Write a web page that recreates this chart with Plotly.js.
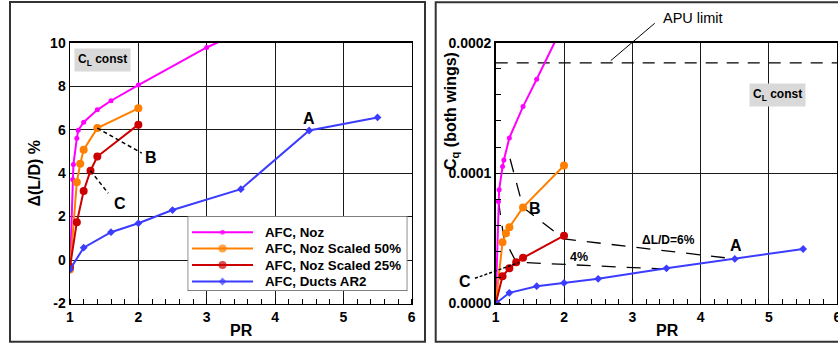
<!DOCTYPE html>
<html>
<head>
<meta charset="utf-8">
<script src="https://cdn.plot.ly/plotly-3.0.1.min.js"></script>
<style>
  html, body { margin: 0; padding: 0; background: #fff; }
  #chart { width: 838px; height: 347px; }
</style>
</head>
<body>
<div id="chart"></div>
<script>
// ---- Data: pressure ratio sweeps for each AFC configuration ----
// AFC, Noz
const nozPR   = [1, 1.04, 1.05, 1.1, 1.12, 1.2, 1.4, 1.6, 2, 3, 3.5];
const nozDLD  = [-0.38, 3.7, 4.4, 5.6, 5.97, 6.34, 6.91, 7.33, 8.05, 9.78, 10.5];
const nozCq   = [0, 0.0000783, 0.0000872, 0.000105, 0.00011, 0.000127, 0.000151, 0.000172, 0.000215];
// AFC, Noz Scaled 50%
const s50PR   = [1, 1.1, 1.15, 1.2, 1.4, 2];
const s50DLD  = [-0.43, 3.58, 4.43, 5.08, 6.07, 6.98];
const s50Cq   = [0, 0.000047, 0.0000538, 0.0000585, 0.0000737, 0.0001058];
// AFC, Noz Scaled 25%
const s25PR   = [1, 1.1, 1.2, 1.3, 1.4, 2];
const s25DLD  = [-0.31, 1.74, 3.18, 4.11, 4.76, 6.23];
const s25Cq   = [0, 0.0000209, 0.000027, 0.0000317, 0.000035, 0.000052];
// AFC, Ducts AR2
const ductsPR  = [1, 1.2, 1.6, 2, 2.5, 3.5, 4.5, 5.5];
const ductsDLD = [-0.43, 0.57, 1.28, 1.69, 2.3, 3.26, 5.96, 6.56];
const ductsCq  = [0, 0.0000082, 0.0000133, 0.0000158, 0.0000189, 0.000027, 0.0000342, 0.0000418];

// Constant delta L/D lines in the Cq plane
const dld6PR = [1.21, 1.4, 2, 4.5];
const dld6Cq = [0.000111, 0.0000737, 0.0000495, 0.0000342];
const dld4PR = [1.04, 1.12, 1.3, 3.43];
const dld4Cq = [0.0000785, 0.00005, 0.0000317, 0.0000265];

// APU bleed limit
const apuPR = [1, 6];
const apuCq = [0.0001846, 0.0001846];

// Leader lines for the B / C callouts on the L/D plot
const leaderBPR = [1.4, 2.05];
const leaderBDLD = [6.07, 4.92];
const leaderCPR = [1.3, 1.56];
const leaderCDLD = [4.11, 3.07];

// Axis ticks
const xTicks = [1, 2, 3, 4, 5, 6];
const dldTicks = [-2, 0, 2, 4, 6, 8, 10];
const dldTickText = ['-2', '0', '2', '4', '6', '8', '10'];
const cqTicks = [0, 0.0001, 0.0002];
const cqTickText = ['0.0000', '0.0001', '0.0002'];

const seriesNames = ['AFC, Noz', 'AFC, Noz Scaled 50%', 'AFC, Noz Scaled 25%', 'AFC, Ducts AR2'];

// ---- Styling ----
const W = 838, H = 347;
const fx = p => p / W;
const fy = p => 1 - p / H;
const FONT = 'Arial, "Liberation Sans", sans-serif';

const styles = [
  { color: '#ff00ff', symbol: 'circle', size: 5 },
  { color: '#ff8000', symbol: 'circle', size: 8 },
  { color: '#cc0000', symbol: 'circle', size: 8 },
  { color: '#3c3cff', symbol: 'diamond', size: 6 }
];

function curve(x, y, st, xa, ya) {
  return {
    x: x, y: y, xaxis: xa, yaxis: ya, type: 'scatter', mode: 'lines+markers',
    showlegend: false, hoverinfo: 'skip',
    line: { color: st.color, width: 2 },
    marker: { color: st.color, symbol: st.symbol, size: st.size, line: { width: 0 } }
  };
}
function dashed(x, y, xa, ya, dash, width) {
  return {
    x: x, y: y, xaxis: xa, yaxis: ya, type: 'scatter', mode: 'lines',
    showlegend: false, hoverinfo: 'skip',
    line: { color: '#000', width: width, dash: dash }
  };
}

const traces = [
  curve(nozPR, nozDLD, styles[0], 'x', 'y'),
  curve(s50PR, s50DLD, styles[1], 'x', 'y'),
  curve(s25PR, s25DLD, styles[2], 'x', 'y'),
  curve(ductsPR, ductsDLD, styles[3], 'x', 'y'),
  dashed(leaderBPR, leaderBDLD, 'x', 'y', '4px,3px', 1.5),
  dashed(leaderCPR, leaderCDLD, 'x', 'y', '4px,3px', 1.5),

  dashed(apuPR, apuCq, 'x2', 'y2', '12px,9px', 1.3),
  dashed(dld6PR, dld6Cq, 'x2', 'y2', '14px,11px', 1.3),
  dashed(dld4PR, dld4Cq, 'x2', 'y2', '14px,11px', 1.3),
  curve(nozPR.slice(0, nozCq.length), nozCq, styles[0], 'x2', 'y2'),
  curve(s50PR, s50Cq, styles[1], 'x2', 'y2'),
  curve(s25PR, s25Cq, styles[2], 'x2', 'y2'),
  curve(ductsPR, ductsCq, styles[3], 'x2', 'y2')
];

// Legend drawn on its own small overlay axes (unit square)
const legBox = { x0: 187.7, x1: 407.3, y0: 216, y1: 291 };
const legRows = [232.3, 248.6, 265, 281.5];
const lx = p => (p - legBox.x0) / (legBox.x1 - legBox.x0);
const ly = p => (legBox.y1 - p) / (legBox.y1 - legBox.y0);
seriesNames.forEach((name, i) => {
  const st = styles[i];
  traces.push({
    x: [lx(192), lx(222.5), lx(253)], y: [ly(legRows[i]), ly(legRows[i]), ly(legRows[i])],
    xaxis: 'x3', yaxis: 'y3', type: 'scatter', mode: 'lines+markers',
    showlegend: false, hoverinfo: 'skip',
    line: { color: st.color, width: 2 },
    marker: { color: st.color, symbol: st.symbol, size: [0, st.size, 0], line: { width: 0 } }
  });
});

const tickFont = { family: FONT, size: 14, color: '#000', weight: 'bold' };
function axis(extra) {
  return Object.assign({
    showline: true, linecolor: '#000', linewidth: 1.5, mirror: true,
    showgrid: true, gridcolor: '#1a1a1a', gridwidth: 1, zeroline: false,
    ticks: '', tickfont: tickFont, fixedrange: true, automargin: false,
    ticklabeloverflow: 'allow'
  }, extra);
}
const xMinor = { dtick: 0.2, tick0: 1, ticks: 'inside', ticklen: 5, tickwidth: 1, tickcolor: '#000', showgrid: false };

function txt(text, x, y, xref, yref, size, extra) {
  return Object.assign({
    text: text, x: x, y: y, xref: xref, yref: yref, showarrow: false,
    xanchor: 'center', yanchor: 'middle',
    font: { family: FONT, size: size, color: '#000', weight: 'bold' }
  }, extra || {});
}

const annotations = [
  // axis titles
  txt('PR', fx(241.7), fy(330), 'paper', 'paper', 16),
  txt('PR', fx(667.3), fy(330), 'paper', 'paper', 16),
  txt('\u0394(L/D) %', fx(33.5), fy(173), 'paper', 'paper', 16, { textangle: -90 }),
  txt('C<sub>q</sub> (both wings)', fx(451), fy(111), 'paper', 'paper', 16, { textangle: -90 }),
  // CL const boxes
  txt('C<sub>L</sub> const', fx(102.8), fy(60), 'paper', 'paper', 12, { bgcolor: '#d9d9d9', borderpad: 3 }),
  txt('C<sub>L</sub> const', fx(777), fy(94.5), 'paper', 'paper', 12, { bgcolor: '#d9d9d9', borderpad: 3 }),
  // callouts, left
  txt('A', 4.5, 6.53, 'x', 'y', 16),
  txt('B', 2.18, 4.73, 'x', 'y', 16),
  txt('C', 1.73, 2.61, 'x', 'y', 16),
  // callouts, right
  txt('B', 1.57, 0.0000732, 'x2', 'y2', 16),
  txt('A', 4.51, 0.0000444, 'x2', 'y2', 16),
  txt('C', fx(464.7), fy(281), 'paper', 'paper', 16),
  txt('\u0394L/D=6%', 3.53, 0.000049, 'x2', 'y2', 12),
  txt('4%', 2.22, 0.0000354, 'x2', 'y2', 12.5),
  txt('APU limit', fx(693), fy(18.3), 'paper', 'paper', 14.5, { font: { family: FONT, size: 14.5, color: '#000' } })
];
seriesNames.forEach((name, i) => {
  annotations.push(txt(name, fx(263), fy(legRows[i]), 'paper', 'paper', 13.3, { xanchor: 'left' }));
});

const shapes = [
  // outer frames of the two panels
  { type: 'rect', xref: 'paper', yref: 'paper', x0: fx(10), x1: fx(425), y0: fy(341.7), y1: fy(2), line: { color: '#333', width: 2 } },
  { type: 'rect', xref: 'paper', yref: 'paper', x0: fx(435.7), x1: fx(845), y0: fy(341.7), y1: fy(2.3), line: { color: '#333', width: 2 } },
  // legend box
  { type: 'rect', xref: 'x3', yref: 'y3', x0: 0, x1: 1, y0: 0, y1: 1, layer: 'below', fillcolor: '#fff', line: { color: '#000', width: 1 } },
  // APU limit pointer
  { type: 'line', xref: 'paper', yref: 'paper', x0: fx(610.7), y0: fy(60.7), x1: fx(654.7), y1: fy(23.3), line: { color: '#000', width: 1 } },
  // C pointer on the Cq plot
  { type: 'line', xref: 'paper', yref: 'paper', x0: fx(475), y0: fy(278.3), x1: fx(519), y1: fy(262.5), line: { color: '#000', width: 1.5, dash: '3px,2px' } }
];

const layout = {
  width: W, height: H,
  margin: { l: 0, r: 0, t: 0, b: 0 },
  paper_bgcolor: '#fff', plot_bgcolor: '#fff',
  showlegend: false,
  font: { family: FONT, color: '#000' },
  xaxis: axis({ domain: [fx(70), fx(411.7)], range: [1, 6], tickvals: xTicks, anchor: 'y', minor: xMinor }),
  yaxis: axis({ domain: [fy(303.5), fy(42.7)], range: [-2, 10], tickvals: dldTicks, ticktext: dldTickText, anchor: 'x' }),
  xaxis2: axis({ domain: [fx(495.7), fx(837.3)], range: [1, 6], tickvals: xTicks, anchor: 'y2', minor: xMinor }),
  yaxis2: axis({ domain: [fy(303.5), fy(42.7)], range: [0, 0.0002], tickvals: cqTicks, ticktext: cqTickText, anchor: 'x2',
    minor: { dtick: 0.00002, tick0: 0, ticks: 'inside', ticklen: 5, tickwidth: 1, tickcolor: '#000', showgrid: false } }),
  xaxis3: { domain: [fx(legBox.x0), fx(legBox.x1)], range: [0, 1], visible: false, fixedrange: true, anchor: 'y3' },
  yaxis3: { domain: [fy(legBox.y1), fy(legBox.y0)], range: [0, 1], visible: false, fixedrange: true, anchor: 'x3' },
  annotations: annotations,
  shapes: shapes
};

Plotly.newPlot('chart', traces, layout, { staticPlot: true, displayModeBar: false });
</script>
</body>
</html>
